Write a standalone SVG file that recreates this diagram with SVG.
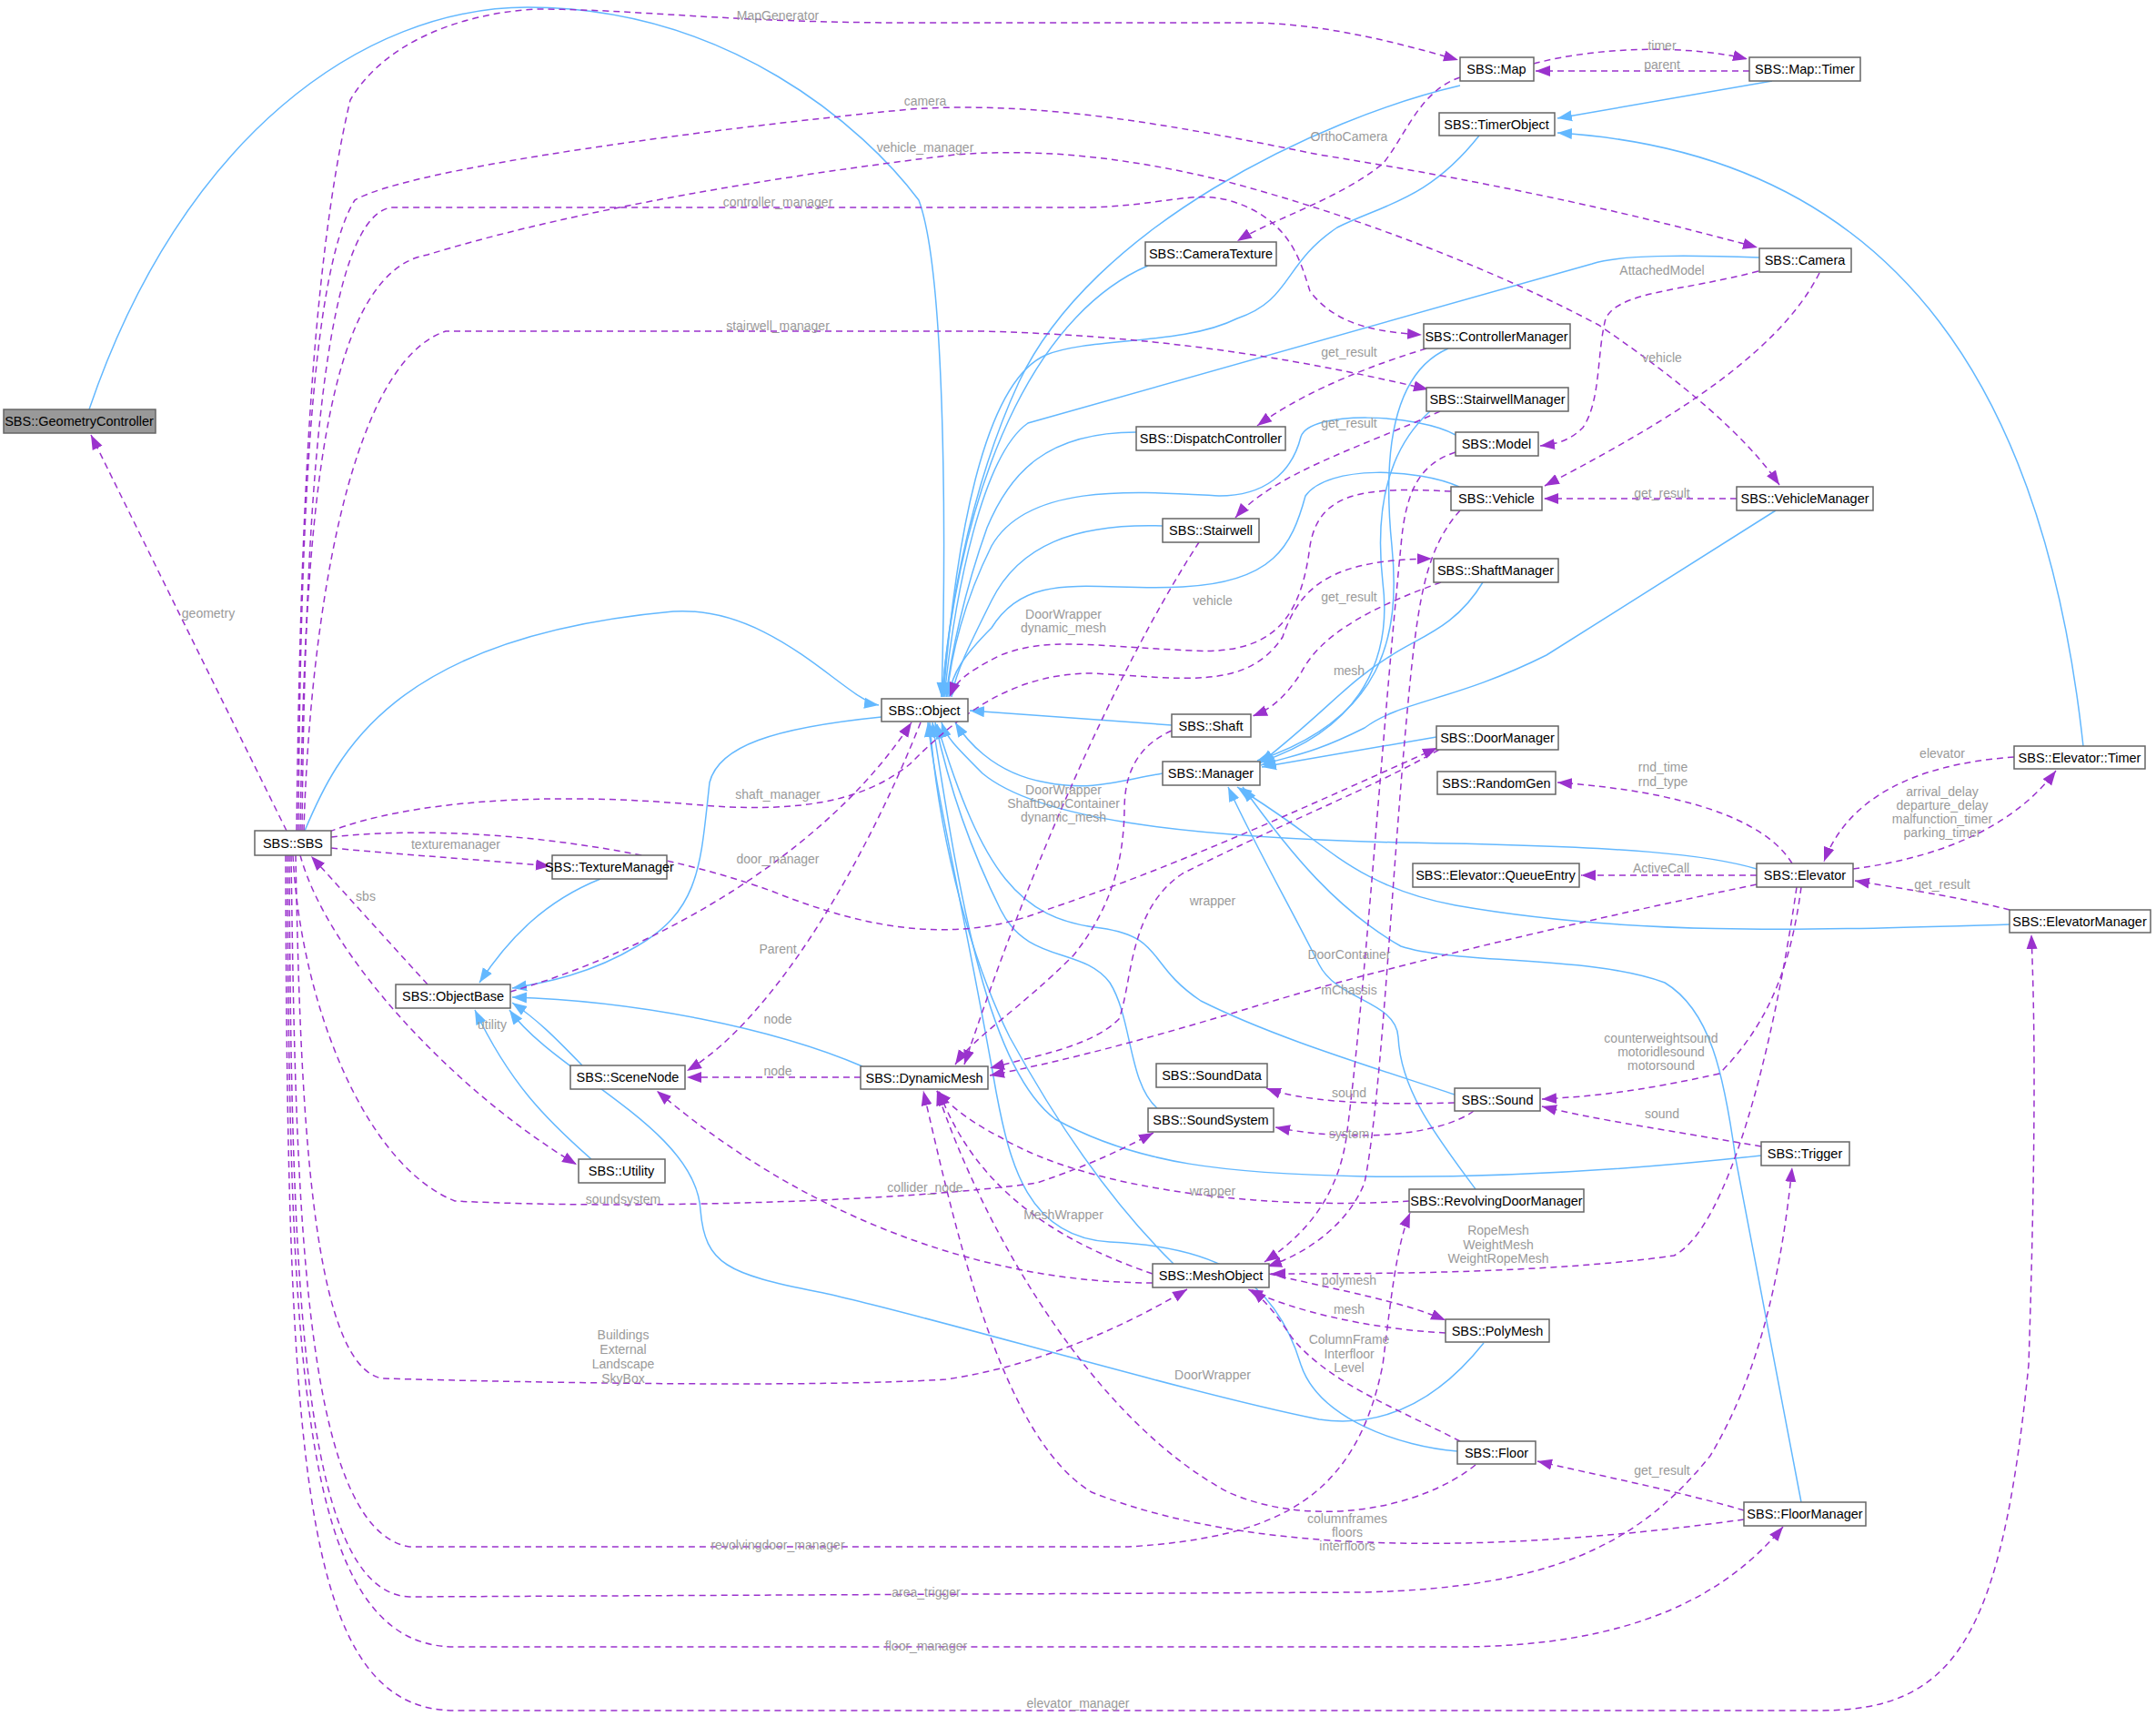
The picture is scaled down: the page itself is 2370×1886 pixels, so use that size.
<svg xmlns="http://www.w3.org/2000/svg" width="2370" height="1886" viewBox="0 0 2370 1886">
<style>
.n rect{fill:#fff;stroke:#666;stroke-width:1.5}
.n text{font-family:"Liberation Sans",Arial,sans-serif;font-size:14.5px;fill:#000;text-anchor:middle}
.b{fill:none;stroke:#63b8ff;stroke-width:1.5;marker-end:url(#ab)}
.p{fill:none;stroke:#9a32cd;stroke-width:1.5;stroke-dasharray:7,5;marker-end:url(#ap)}
.l{font-family:"Liberation Sans",Arial,sans-serif;font-size:14px;fill:#9a9a9a;text-anchor:middle}
</style>
<defs>
<marker id="ab" markerUnits="userSpaceOnUse" markerWidth="18" markerHeight="14" refX="16" refY="7" orient="auto"><path d="M0,1 L16,7 L0,13 Z" fill="#63b8ff"/></marker>
<marker id="ap" markerUnits="userSpaceOnUse" markerWidth="18" markerHeight="14" refX="16" refY="7" orient="auto"><path d="M0,1 L16,7 L0,13 Z" fill="#9a32cd"/></marker>
</defs>
<rect width="2370" height="1886" fill="#fff"/>
<g id="connectors">
<path class="b" d="M98,450 C200,150 400,8 580,8 C800,8 950,140 1010,220 C1040,300 1040,600 1035,766"/>
<path class="b" d="M335,913 C370,830 430,700 740,672 C850,665 930,770 966,775"/>
<path class="b" d="M1605,94 C1450,130 1200,250 1120,420 C1060,550 1040,700 1036,766"/>
<path class="b" d="M1262,292 C1150,340 1060,500 1035,766"/>
<path class="b" d="M1626,149 C1570,220 1520,225 1470,250 C1410,290 1420,330 1360,350 C1300,380 1200,370 1150,390 C1080,420 1050,600 1037,766"/>
<path class="b" d="M1934,283 C1850,280 1780,280 1750,290 L1130,465 C1080,500 1050,650 1038,766"/>
<path class="b" d="M1249,475 C1150,475 1110,520 1085,580 C1060,650 1045,720 1040,766"/>
<path class="b" d="M1600,478 C1560,455 1440,450 1430,480 C1420,520 1390,545 1340,545 C1250,540 1130,530 1090,600 C1060,660 1045,720 1041,766"/>
<path class="b" d="M1604,535 C1560,515 1460,510 1435,545 C1420,600 1400,640 1300,645 C1200,650 1130,625 1090,690 C1060,720 1046,740 1043,766"/>
<path class="b" d="M1278,578 C1180,575 1120,600 1090,660 C1065,710 1050,740 1046,766"/>
<path class="b" d="M1288,797 L1066,781"/>
<path class="b" d="M1278,850 C1230,858 1200,870 1150,860 C1090,850 1060,810 1050,794"/>
<path class="b" d="M1931,955 C1880,940 1800,930 1540,926 C1300,920 1140,900 1080,850 C1050,820 1040,810 1035,794"/>
<path class="b" d="M1599,1203 C1500,1170 1400,1140 1320,1100 C1260,1060 1280,1030 1210,1020 C1120,1010 1080,960 1030,796"/>
<path class="b" d="M1272,1218 C1240,1190 1245,1120 1220,1080 C1190,1040 1130,1060 1100,1000 C1060,920 1040,850 1028,794"/>
<path class="b" d="M1936,1270 C1800,1285 1650,1295 1500,1293 C1350,1290 1250,1280 1160,1230 C1080,1170 1050,950 1025,794"/>
<path class="b" d="M1290,1389 C1230,1330 1170,1250 1110,1140 C1060,1040 1030,900 1022,794"/>
<path class="b" d="M1602,1595 C1540,1590 1450,1560 1430,1500 C1400,1400 1330,1370 1220,1365 C1130,1360 1110,1280 1095,1200 C1060,1000 1030,880 1020,794"/>
<path class="b" d="M1592,383 C1530,410 1520,500 1530,600 C1540,700 1520,790 1382,836"/>
<path class="b" d="M1572,452 C1530,490 1510,550 1520,640 C1530,720 1500,800 1384,838"/>
<path class="b" d="M1952,561 L1700,720 C1600,770 1540,770 1500,800 C1440,830 1420,830 1386,841"/>
<path class="b" d="M1630,640 C1600,690 1560,700 1530,720 C1480,750 1460,780 1385,839"/>
<path class="b" d="M1579,810 L1387,843"/>
<path class="b" d="M2209,1016 C2000,1022 1800,1030 1600,995 C1520,980 1480,950 1440,920 C1400,890 1375,875 1360,865"/>
<path class="b" d="M1622,1307 C1580,1250 1540,1200 1537,1140 C1535,1100 1470,1100 1450,1060 C1420,1000 1380,930 1350,865"/>
<path class="b" d="M1980,1651 L1908,1274 C1895,1180 1880,1110 1830,1080 C1750,1050 1600,1060 1540,1040 C1470,1000 1420,940 1366,865"/>
<path class="b" d="M1948,89 L1712,130"/>
<path class="b" d="M2290,820 C2250,450 2100,170 1712,146"/>
<path class="b" d="M969,788 C850,800 790,820 780,860 C770,950 770,1000 700,1040 C650,1070 600,1080 563,1086"/>
<path class="b" d="M660,966 C600,990 560,1030 527,1080"/>
<path class="b" d="M640,1171 C610,1140 590,1120 563,1102"/>
<path class="b" d="M948,1172 C850,1130 700,1100 563,1096"/>
<path class="b" d="M650,1274 C600,1230 560,1190 522,1110"/>
<path class="b" d="M1631,1476 C1580,1540 1520,1570 1450,1560 C1300,1530 1000,1440 900,1420 C800,1400 775,1390 770,1330 C765,1240 610,1180 560,1110"/>

<path class="p" d="M326,913 C330,600 340,300 385,110 C420,50 500,15 590,10 C700,10 800,25 1000,25 L1370,25 C1450,25 1530,45 1603,66"/>
<path class="p" d="M328,913 C330,600 340,300 390,220 C440,190 700,150 1000,120 C1150,110 1300,140 1450,170 C1700,210 1850,250 1932,272"/>
<path class="p" d="M330,913 C335,600 350,300 470,280 C600,240 800,200 1050,170 C1150,162 1250,175 1350,200 C1500,240 1650,300 1757,357 C1850,420 1920,480 1956,533"/>
<path class="p" d="M332,913 C335,600 350,240 430,228 L1200,228 C1280,225 1310,210 1350,220 C1420,240 1430,290 1440,320 C1470,360 1520,365 1563,368"/>
<path class="p" d="M334,913 C340,700 380,400 490,364 L1080,364 C1300,370 1450,400 1570,428"/>
<path class="p" d="M362,914 C450,880 600,870 760,884 C880,895 950,880 1000,840 C1050,790 1110,740 1200,740 C1300,745 1370,760 1410,700 C1430,640 1470,615 1574,614"/>
<path class="p" d="M364,920 C500,905 700,925 850,980 C950,1020 1050,1040 1150,1000 C1300,950 1450,880 1580,822"/>
<path class="p" d="M364,932 C450,940 530,945 605,952"/>
<path class="p" d="M315,913 L100,478"/>
<path class="p" d="M470,1082 L342,941"/>
<path class="p" d="M330,940 C360,1050 500,1200 634,1280"/>
<path class="p" d="M322,940 C330,1100 400,1280 500,1320 C700,1330 1000,1320 1140,1300 C1200,1280 1240,1260 1268,1245"/>
<path class="p" d="M325,940 C330,1200 340,1500 420,1515 C600,1520 900,1525 1040,1516 C1150,1500 1250,1450 1305,1417"/>
<path class="p" d="M320,940 C325,1300 330,1680 450,1700 L1240,1700 C1400,1690 1490,1650 1520,1500 C1530,1420 1535,1370 1550,1333"/>
<path class="p" d="M318,940 C320,1400 330,1750 450,1755 L1500,1750 C1700,1745 1800,1700 1880,1600 C1940,1500 1960,1380 1970,1283"/>
<path class="p" d="M316,940 C318,1500 330,1810 500,1810 L1600,1810 C1800,1810 1900,1750 1960,1678"/>
<path class="p" d="M314,940 C316,1600 330,1880 500,1880 L2000,1880 C2150,1880 2200,1800 2230,1500 C2240,1200 2235,1080 2233,1027"/>
<path class="p" d="M1605,85 C1560,100 1545,150 1520,180 C1470,220 1400,240 1360,265"/>
<path class="p" d="M1686,70 C1760,50 1860,50 1921,65"/>
<path class="p" d="M1923,78 L1688,78"/>
<path class="p" d="M1933,298 C1850,320 1780,320 1765,350 C1755,390 1760,440 1740,470 C1725,485 1710,488 1693,490"/>
<path class="p" d="M2000,300 C1950,400 1800,480 1698,534"/>
<path class="p" d="M1568,383 C1480,410 1420,440 1382,468"/>
<path class="p" d="M1583,452 C1500,490 1400,520 1358,569"/>
<path class="p" d="M1909,548 L1697,548"/>
<path class="p" d="M1584,640 C1500,670 1450,700 1430,740 C1410,770 1395,780 1377,787"/>
<path class="p" d="M1595,540 C1500,535 1450,540 1440,600 C1430,680 1400,720 1310,715 C1200,710 1150,700 1100,720 C1060,740 1050,750 1044,766"/>
<path class="p" d="M1318,596 C1250,700 1150,900 1060,1170"/>
<path class="p" d="M1288,803 C1250,820 1236,850 1236,890 C1235,950 1220,1000 1180,1050 C1120,1110 1070,1140 1050,1170"/>
<path class="p" d="M1600,497 C1560,510 1545,540 1540,600 C1520,800 1500,1100 1480,1250 C1470,1320 1430,1360 1390,1387"/>
<path class="p" d="M1605,561 C1570,600 1560,650 1550,750 C1530,950 1520,1200 1500,1300 C1480,1350 1430,1380 1393,1392"/>
<path class="p" d="M1582,824 C1500,870 1420,900 1300,960 C1240,1000 1245,1080 1230,1120 C1200,1150 1140,1160 1088,1174"/>
<path class="p" d="M1931,972 C1700,1020 1500,1070 1400,1100 C1300,1130 1200,1160 1088,1182"/>
<path class="p" d="M1622,1610 C1560,1660 1440,1680 1350,1640 C1200,1560 1080,1350 1030,1199"/>
<path class="p" d="M1917,1670 C1700,1700 1400,1720 1200,1640 C1100,1580 1050,1350 1015,1199"/>
<path class="p" d="M1605,1584 C1540,1550 1460,1520 1420,1470 C1400,1440 1390,1430 1376,1417"/>
<path class="p" d="M1917,1660 C1850,1640 1750,1620 1690,1606"/>
<path class="p" d="M1395,1400 C1480,1420 1540,1430 1589,1451"/>
<path class="p" d="M1589,1465 C1500,1460 1420,1440 1372,1417"/>
<path class="p" d="M1267,1400 C1150,1360 1070,1300 1032,1199"/>
<path class="p" d="M1267,1410 C1100,1410 900,1350 722,1199"/>
<path class="p" d="M946,1184 L755,1184"/>
<path class="p" d="M561,1090 C700,1050 900,950 1002,794"/>
<path class="p" d="M1012,794 C950,950 850,1120 755,1177"/>
<path class="p" d="M1599,1212 C1500,1215 1430,1210 1392,1196"/>
<path class="p" d="M1620,1221 C1580,1250 1480,1255 1402,1239"/>
<path class="p" d="M1936,1260 C1850,1245 1750,1230 1695,1216"/>
<path class="p" d="M1980,975 C1970,1050 1950,1120 1890,1180 C1800,1200 1750,1205 1695,1208"/>
<path class="p" d="M1975,975 C1950,1150 1900,1350 1840,1380 C1700,1400 1500,1400 1397,1400"/>
<path class="p" d="M1549,1320 C1400,1330 1200,1310 1100,1250 C1060,1230 1040,1210 1030,1199"/>
<path class="p" d="M1931,962 L1738,962"/>
<path class="p" d="M1970,949 C1940,900 1850,870 1712,860"/>
<path class="p" d="M2214,832 C2100,840 2030,880 2005,947"/>
<path class="p" d="M2037,955 C2150,940 2220,900 2260,847"/>
<path class="p" d="M2209,1000 C2150,985 2080,975 2039,968"/>
</g>
<g id="labels">
<text class="l" x="855" y="22">MapGenerator</text>
<text class="l" x="1017" y="116">camera</text>
<text class="l" x="1017" y="167">vehicle_manager</text>
<text class="l" x="855" y="227">controller_manager</text>
<text class="l" x="855" y="363">stairwell_manager</text>
<text class="l" x="855" y="878">shaft_manager</text>
<text class="l" x="855" y="949">door_manager</text>
<text class="l" x="501" y="933">texturemanager</text>
<text class="l" x="229" y="679">geometry</text>
<text class="l" x="402" y="990">sbs</text>
<text class="l" x="855" y="1048">Parent</text>
<text class="l" x="855" y="1125">node</text>
<text class="l" x="855" y="1182">node</text>
<text class="l" x="541" y="1131">utility</text>
<text class="l" x="685" y="1323">soundsystem</text>
<text class="l" x="685" y="1472">Buildings</text>
<text class="l" x="685" y="1488">External</text>
<text class="l" x="685" y="1504">Landscape</text>
<text class="l" x="685" y="1520">SkyBox</text>
<text class="l" x="855" y="1703">revolvingdoor_manager</text>
<text class="l" x="1018" y="1755">area_trigger</text>
<text class="l" x="1018" y="1814">floor_manager</text>
<text class="l" x="1185" y="1877">elevator_manager</text>
<text class="l" x="1827" y="55">timer</text>
<text class="l" x="1827" y="76">parent</text>
<text class="l" x="1483" y="155">OrthoCamera</text>
<text class="l" x="1827" y="302">AttachedModel</text>
<text class="l" x="1827" y="398">vehicle</text>
<text class="l" x="1483" y="392">get_result</text>
<text class="l" x="1483" y="470">get_result</text>
<text class="l" x="1827" y="547">get_result</text>
<text class="l" x="1333" y="665">vehicle</text>
<text class="l" x="1169" y="680">DoorWrapper</text>
<text class="l" x="1169" y="695">dynamic_mesh</text>
<text class="l" x="1483" y="661">get_result</text>
<text class="l" x="1483" y="742">mesh</text>
<text class="l" x="1828" y="848">rnd_time</text>
<text class="l" x="1828" y="864">rnd_type</text>
<text class="l" x="2135" y="833">elevator</text>
<text class="l" x="2135" y="875">arrival_delay</text>
<text class="l" x="2135" y="890">departure_delay</text>
<text class="l" x="2135" y="905">malfunction_timer</text>
<text class="l" x="2135" y="920">parking_timer</text>
<text class="l" x="1169" y="873">DoorWrapper</text>
<text class="l" x="1169" y="888">ShaftDoorContainer</text>
<text class="l" x="1169" y="903">dynamic_mesh</text>
<text class="l" x="1826" y="959">ActiveCall</text>
<text class="l" x="2135" y="977">get_result</text>
<text class="l" x="1333" y="995">wrapper</text>
<text class="l" x="1483" y="1054">DoorContainer</text>
<text class="l" x="1483" y="1093">mChassis</text>
<text class="l" x="1826" y="1146">counterweightsound</text>
<text class="l" x="1826" y="1161">motoridlesound</text>
<text class="l" x="1826" y="1176">motorsound</text>
<text class="l" x="1483" y="1206">sound</text>
<text class="l" x="1827" y="1229">sound</text>
<text class="l" x="1483" y="1251">system</text>
<text class="l" x="1017" y="1310">collider_node</text>
<text class="l" x="1333" y="1314">wrapper</text>
<text class="l" x="1169" y="1340">MeshWrapper</text>
<text class="l" x="1647" y="1357">RopeMesh</text>
<text class="l" x="1647" y="1373">WeightMesh</text>
<text class="l" x="1647" y="1388">WeightRopeMesh</text>
<text class="l" x="1483" y="1412">polymesh</text>
<text class="l" x="1483" y="1444">mesh</text>
<text class="l" x="1483" y="1477">ColumnFrame</text>
<text class="l" x="1483" y="1493">Interfloor</text>
<text class="l" x="1483" y="1508">Level</text>
<text class="l" x="1333" y="1516">DoorWrapper</text>
<text class="l" x="1827" y="1621">get_result</text>
<text class="l" x="1481" y="1674">columnframes</text>
<text class="l" x="1481" y="1689">floors</text>
<text class="l" x="1481" y="1704">interfloors</text>
</g>
<g id="GeometryController" class="n"><rect x="4" y="450" width="167" height="26" style="fill:#999"/><text x="87" y="468">SBS::GeometryController</text></g>
<g id="SBS" class="n"><rect x="280" y="913" width="84" height="27"/><text x="322" y="932">SBS::SBS</text></g>
<g id="TextureManager" class="n"><rect x="607" y="940" width="126" height="26"/><text x="670" y="958">SBS::TextureManager</text></g>
<g id="ObjectBase" class="n"><rect x="435" y="1082" width="126" height="26"/><text x="498" y="1100">SBS::ObjectBase</text></g>
<g id="SceneNode" class="n"><rect x="627" y="1171" width="126" height="26"/><text x="690" y="1189">SBS::SceneNode</text></g>
<g id="DynamicMesh" class="n"><rect x="946" y="1172" width="140" height="25"/><text x="1016" y="1190">SBS::DynamicMesh</text></g>
<g id="Utility" class="n"><rect x="636" y="1274" width="95" height="26"/><text x="683" y="1292">SBS::Utility</text></g>
<g id="Object" class="n"><rect x="969" y="768" width="95" height="25"/><text x="1016" y="786">SBS::Object</text></g>
<g id="Map" class="n"><rect x="1605" y="63" width="81" height="26"/><text x="1645" y="81">SBS::Map</text></g>
<g id="MapTimer" class="n"><rect x="1923" y="63" width="122" height="26"/><text x="1984" y="81">SBS::Map::Timer</text></g>
<g id="TimerObject" class="n"><rect x="1582" y="124" width="127" height="25"/><text x="1645" y="142">SBS::TimerObject</text></g>
<g id="CameraTexture" class="n"><rect x="1259" y="266" width="144" height="26"/><text x="1331" y="284">SBS::CameraTexture</text></g>
<g id="Camera" class="n"><rect x="1934" y="273" width="101" height="26"/><text x="1984" y="291">SBS::Camera</text></g>
<g id="ControllerManager" class="n"><rect x="1565" y="356" width="161" height="27"/><text x="1645" y="375">SBS::ControllerManager</text></g>
<g id="StairwellManager" class="n"><rect x="1568" y="426" width="156" height="26"/><text x="1646" y="444">SBS::StairwellManager</text></g>
<g id="DispatchController" class="n"><rect x="1249" y="469" width="164" height="26"/><text x="1331" y="487">SBS::DispatchController</text></g>
<g id="Model" class="n"><rect x="1600" y="475" width="91" height="26"/><text x="1645" y="493">SBS::Model</text></g>
<g id="Vehicle" class="n"><rect x="1595" y="535" width="100" height="26"/><text x="1645" y="553">SBS::Vehicle</text></g>
<g id="VehicleManager" class="n"><rect x="1909" y="535" width="150" height="26"/><text x="1984" y="553">SBS::VehicleManager</text></g>
<g id="Stairwell" class="n"><rect x="1278" y="570" width="106" height="26"/><text x="1331" y="588">SBS::Stairwell</text></g>
<g id="ShaftManager" class="n"><rect x="1576" y="614" width="137" height="26"/><text x="1644" y="632">SBS::ShaftManager</text></g>
<g id="Shaft" class="n"><rect x="1288" y="785" width="87" height="25"/><text x="1331" y="803">SBS::Shaft</text></g>
<g id="Manager" class="n"><rect x="1278" y="837" width="107" height="26"/><text x="1331" y="855">SBS::Manager</text></g>
<g id="DoorManager" class="n"><rect x="1579" y="798" width="134" height="26"/><text x="1646" y="816">SBS::DoorManager</text></g>
<g id="RandomGen" class="n"><rect x="1580" y="848" width="130" height="25"/><text x="1645" y="866">SBS::RandomGen</text></g>
<g id="ElevatorTimer" class="n"><rect x="2214" y="820" width="144" height="25"/><text x="2286" y="838">SBS::Elevator::Timer</text></g>
<g id="QueueEntry" class="n"><rect x="1553" y="949" width="183" height="26"/><text x="1644" y="967">SBS::Elevator::QueueEntry</text></g>
<g id="Elevator" class="n"><rect x="1931" y="949" width="106" height="26"/><text x="1984" y="967">SBS::Elevator</text></g>
<g id="ElevatorManager" class="n"><rect x="2209" y="1000" width="155" height="25"/><text x="2286" y="1018">SBS::ElevatorManager</text></g>
<g id="SoundData" class="n"><rect x="1271" y="1169" width="122" height="26"/><text x="1332" y="1187">SBS::SoundData</text></g>
<g id="Sound" class="n"><rect x="1599" y="1196" width="94" height="25"/><text x="1646" y="1214">SBS::Sound</text></g>
<g id="SoundSystem" class="n"><rect x="1262" y="1218" width="138" height="26"/><text x="1331" y="1236">SBS::SoundSystem</text></g>
<g id="Trigger" class="n"><rect x="1936" y="1255" width="97" height="26"/><text x="1984" y="1273">SBS::Trigger</text></g>
<g id="RevolvingDoorManager" class="n"><rect x="1549" y="1307" width="192" height="25"/><text x="1645" y="1325">SBS::RevolvingDoorManager</text></g>
<g id="MeshObject" class="n"><rect x="1267" y="1389" width="128" height="26"/><text x="1331" y="1407">SBS::MeshObject</text></g>
<g id="PolyMesh" class="n"><rect x="1589" y="1450" width="114" height="25"/><text x="1646" y="1468">SBS::PolyMesh</text></g>
<g id="Floor" class="n"><rect x="1602" y="1584" width="86" height="25"/><text x="1645" y="1602">SBS::Floor</text></g>
<g id="FloorManager" class="n"><rect x="1917" y="1651" width="134" height="26"/><text x="1984" y="1669">SBS::FloorManager</text></g>
</svg>
